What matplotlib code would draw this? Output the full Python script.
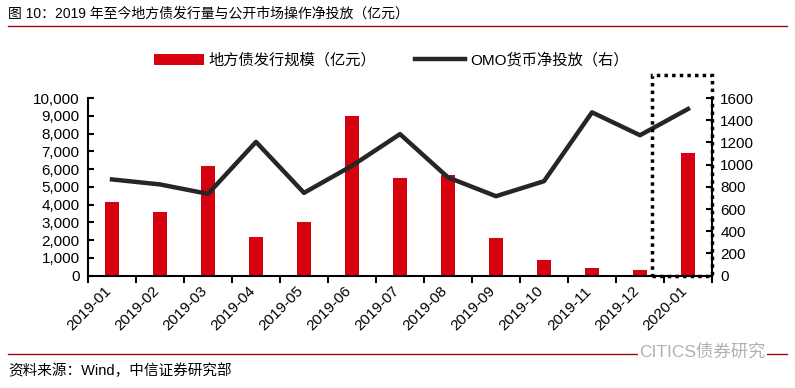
import numpy as np
import matplotlib
matplotlib.use("Agg")
import matplotlib.pyplot as plt
import matplotlib.transforms as mtransforms
from matplotlib.lines import Line2D
from matplotlib.patches import Rectangle

plt.rcParams['font.family'] = ['Liberation Sans', 'Noto Sans CJK SC', 'DejaVu Sans']

months = ['2019-01', '2019-02', '2019-03', '2019-04', '2019-05', '2019-06', '2019-07',
          '2019-08', '2019-09', '2019-10', '2019-11', '2019-12', '2020-01']
local_bonds = [4150, 3610, 6200, 2200, 3010, 8960, 5490, 5640, 2140, 885, 420, 300, 6900]
omo_net = [867, 822, 737, 1205, 746, 990, 1275, 885, 716, 851, 1471, 1265, 1501]
left_ticks = [0, 1000, 2000, 3000, 4000, 5000, 6000, 7000, 8000, 9000, 10000]
right_ticks = [0, 200, 400, 600, 800, 1000, 1200, 1400, 1600]

red = '#d7000f'
dark = '#262626'

fig = plt.figure(figsize=(7.95, 3.88), dpi=100)
ax = fig.add_axes([0.1107, 0.2894, 0.7849, 0.458])
ax2 = ax.twinx()

x = np.arange(len(months))
bars = ax.bar(x, local_bonds, width=0.3, color=red, label='地方债发行规模（亿元）', zorder=2)
line, = ax2.plot(x, omo_net, color=dark, lw=3.2, label='OMO货币净投放（右）', zorder=3)

ax.set_xlim(-0.5, len(months) - 0.5)
ax.set_ylim(0, 10000)
ax2.set_ylim(0, 1600)
ax.set_yticks(left_ticks)
ax.set_yticklabels(['{:,}'.format(v) for v in left_ticks], fontsize=11)
ax2.set_yticks(right_ticks)
ax2.set_yticklabels([str(v) for v in right_ticks], fontsize=11)

ax.set_xticks(x)
ax.set_xticklabels(months, rotation=45, ha='right', rotation_mode='anchor', fontsize=11)
ax.tick_params(axis='x', length=0, pad=6)
# shift the rotated labels a bit to the left, like the original
shift = mtransforms.ScaledTranslation(-8 / 100, 0, fig.dpi_scale_trans)
for lab in ax.get_xticklabels():
    lab.set_transform(lab.get_transform() + shift)
# boundary ticks on the x axis
ax.set_xticks(np.arange(-0.5, len(months) + 0.5, 1), minor=True)
ax.tick_params(axis='x', which='minor', direction='out', length=5, width=1.5)
ax.tick_params(axis='y', direction='in', length=4, width=1.5, pad=6)
ax2.tick_params(axis='y', direction='in', length=4, width=1.5, pad=6)

for a in (ax, ax2):
    a.spines['top'].set_visible(False)
    for s in ('left', 'right', 'bottom'):
        a.spines[s].set_linewidth(1.5)
ax.spines['right'].set_visible(False)
ax2.spines['left'].set_visible(False)
ax2.spines['bottom'].set_visible(False)

# dotted highlight box for the latest month
box = Rectangle((11.25, 0), 1.25, 1811, fill=False, ls=(0, (1, 1.2)), lw=2.5,
                ec='black', clip_on=False, zorder=4)
ax2.add_patch(box)

fig.legend(handles=[bars, line], loc='center', bbox_to_anchor=(0.492, 0.845), ncol=2,
           frameon=False, fontsize=11, handlelength=3.3, columnspacing=2.5, handletextpad=0.3)

fig.text(0.01, 0.965, '图 10：2019 年至今地方债发行量与公开市场操作净投放（亿元）', fontsize=10,
         va='center', ha='left')
fig.add_artist(Line2D([0.01, 0.99], [0.933, 0.933], color='#9c0a14', lw=1))
fig.add_artist(Line2D([0.01, 0.99], [0.088, 0.088], color='#9c0a14', lw=1))
fig.text(0.01, 0.045, '资料来源：Wind，中信证券研究部', fontsize=10.5, va='center', ha='left')
fig.text(0.963, 0.093, 'CITICS债券研究', fontsize=12.5, color='#b0b0b0', va='center', ha='right',
         bbox=dict(facecolor='white', edgecolor='none', pad=1))

fig.savefig('out.png', dpi=100)
